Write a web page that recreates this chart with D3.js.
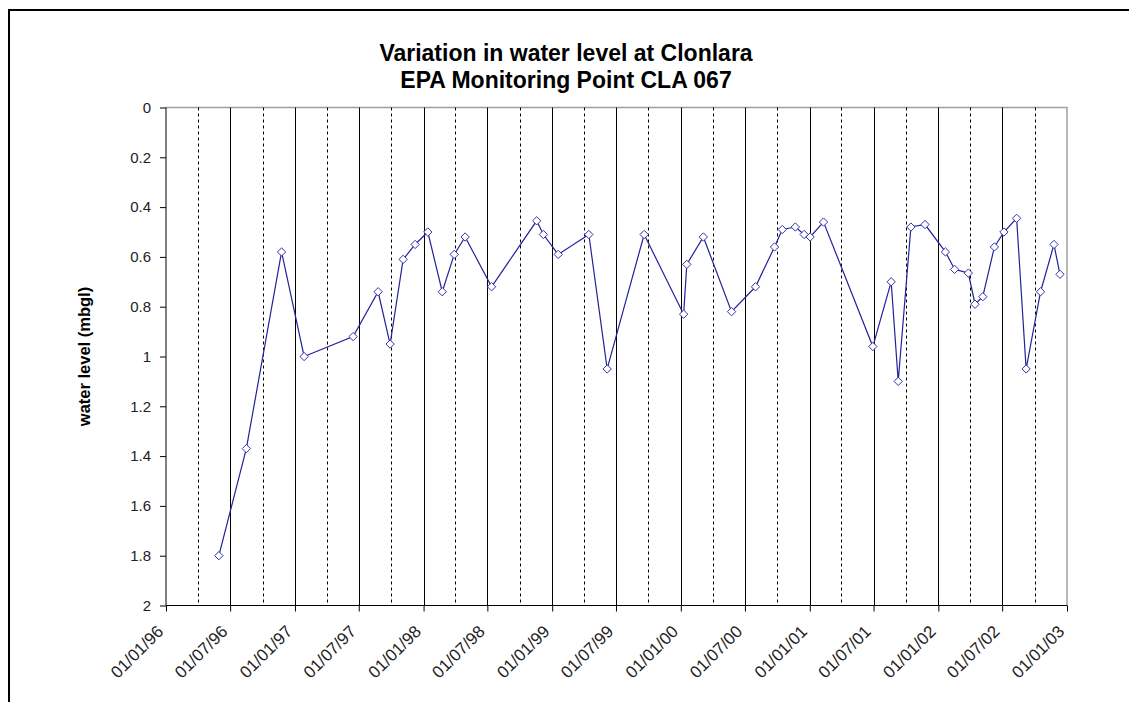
<!DOCTYPE html>
<html>
  <head>
    <meta http-equiv="Content-Type" content="text/html;charset=utf-8">
    <script src="https://d3js.org/d3.v7.min.js"></script>
    <style>
      body { margin: 0; background: #fff; }
      svg text { font-family: Arial, "Liberation Sans", sans-serif; }
    </style>
  </head>
  <body>
    <svg id="chart" width="1129" height="702"></svg>
    <script type="text/javascript">

// sampling dates and water level (metres below ground level)
var dates = ["1996-05-30", "1996-08-16", "1996-11-24", "1997-01-27", "1997-06-15", "1997-08-25",
  "1997-09-28", "1997-11-04", "1997-12-08", "1998-01-13", "1998-02-23", "1998-03-29",
  "1998-04-29", "1998-07-13", "1998-11-18", "1998-12-07", "1999-01-18", "1999-04-15",
  "1999-06-06", "1999-09-19", "2000-01-09", "2000-01-18", "2000-03-05", "2000-05-24",
  "2000-07-31", "2000-09-23", "2000-10-15", "2000-11-21", "2000-12-16", "2001-01-02",
  "2001-02-09", "2001-06-29", "2001-08-20", "2001-09-09", "2001-10-15", "2001-11-24",
  "2002-01-21", "2002-02-16", "2002-03-27", "2002-04-15", "2002-05-07", "2002-06-09",
  "2002-07-06", "2002-08-11", "2002-09-07", "2002-10-18", "2002-11-25", "2002-12-12"];
var levels = [1.80, 1.37, 0.58, 1.00, 0.92, 0.74,
  0.95, 0.61, 0.55, 0.50, 0.74, 0.59,
  0.52, 0.72, 0.455, 0.51, 0.59, 0.51,
  1.05, 0.51, 0.83, 0.63, 0.52, 0.82,
  0.72, 0.56, 0.49, 0.48, 0.51, 0.52,
  0.46, 0.96, 0.70, 1.10, 0.48, 0.47,
  0.58, 0.65, 0.665, 0.79, 0.76, 0.56,
  0.50, 0.445, 1.05, 0.74, 0.55, 0.67];
var yTicks = [0, 0.2, 0.4, 0.6, 0.8, 1, 1.2, 1.4, 1.6, 1.8, 2];
var titleLines = ["Variation in water level at Clonlara", "EPA Monitoring Point CLA 067"];
var yLabel = "water level (mbgl)";

var parse = d3.timeParse("%Y-%m-%d");
var fmt = d3.timeFormat("%d/%m/%y");
var data = dates.map(function(d, i) { return {date: parse(d), level: levels[i]}; });

var svg = d3.select("#chart");
var plotL = 166, plotR = 1067, plotT = 107.5, plotB = 605.5;

var x = d3.scaleTime()
    .domain([new Date(1996, 0, 1), new Date(2003, 0, 1)])
    .range([plotL, plotR]);
var y = d3.scaleLinear().domain([0, 2]).range([plotT, plotB]);

var majors = d3.timeMonth.every(6).range(new Date(1996, 0, 1), new Date(2003, 0, 2));
var minors = d3.timeMonth.every(3).range(new Date(1996, 0, 1), new Date(2003, 0, 1))
    .filter(function(d) { return d.getMonth() % 6 == 3; });

// outer chart frame
svg.append("rect")
    .attr("x", 9).attr("y", 10)
    .attr("width", 1200).attr("height", 800)
    .style("fill", "none").style("stroke", "#000").style("stroke-width", 2);

// title
svg.append("g").selectAll("text")
    .data(titleLines).join("text")
    .attr("x", 566).attr("y", function(d, i) { return 61 + i * 27; })
    .attr("text-anchor", "middle")
    .style("font-size", "23px").style("font-weight", "bold")
    .text(function(d) { return d; });

// plot frame (top and right in grey)
svg.append("path")
    .attr("d", "M" + plotL + "," + plotT + "H" + plotR + "V" + plotB)
    .style("fill", "none").style("stroke", "#a0a0a0").style("stroke-width", 1.5);

// minor gridlines dashed
svg.append("g").selectAll("line")
    .data(minors).join("line")
    .attr("x1", function(d) { return Math.round(x(d)) + 0.5; })
    .attr("x2", function(d) { return Math.round(x(d)) + 0.5; })
    .attr("y1", plotT).attr("y2", plotB)
    .style("stroke", "#000").style("stroke-dasharray", "3,3");

// major gridlines solid
svg.append("g").selectAll("line")
    .data(majors.slice(1, -1)).join("line")
    .attr("x1", function(d) { return Math.round(x(d)) + 0.5; })
    .attr("x2", function(d) { return Math.round(x(d)) + 0.5; })
    .attr("y1", plotT).attr("y2", plotB)
    .style("stroke", "#000");

// y axis
var yAxis = d3.axisLeft(y).tickValues(yTicks).tickSize(6).tickPadding(9)
    .tickFormat(function(d) { return String(d); });
var gy = svg.append("g").attr("transform", "translate(" + plotL + ",0)").call(yAxis);
gy.select(".domain").attr("d", "M0," + plotT + "V" + plotB).style("stroke", "#000");
gy.selectAll("text").style("font-size", "15px").style("fill", "#222").style("font-family", "Arial, 'Liberation Sans', sans-serif");

// x axis
var xAxis = d3.axisBottom(x).tickValues(majors).tickSize(6).tickFormat(fmt);
var gx = svg.append("g").attr("transform", "translate(0," + plotB + ")").call(xAxis);
gx.select(".domain").attr("d", "M" + plotL + ",0H" + plotR).style("stroke", "#000");
gx.selectAll("text")
    .attr("text-anchor", "end")
    .attr("transform", "translate(-2,27) rotate(-45)")
    .attr("x", 0).attr("y", 0).attr("dy", 0)
    .style("font-size", "17px").style("fill", "#222").style("font-family", "Arial, 'Liberation Sans', sans-serif");

// y label
svg.append("text")
    .attr("transform", "translate(90," + ((plotT + plotB) / 2) + ") rotate(-90)")
    .attr("text-anchor", "middle")
    .style("font-size", "16.5px").style("font-weight", "bold")
    .text(yLabel);

// series
var line = d3.line()
    .x(function(d) { return x(d.date); })
    .y(function(d) { return y(d.level); });

svg.append("path")
    .datum(data)
    .attr("d", line)
    .style("fill", "none").style("stroke", "#22229a").style("stroke-width", 1.2);

svg.append("g").selectAll("path")
    .data(data).join("path")
    .attr("d", d3.symbol(d3.symbolDiamond2, 44))
    .attr("transform", function(d) { return "translate(" + x(d.date) + "," + y(d.level) + ")"; })
    .style("fill", "#fff").style("stroke", "#3333aa").style("stroke-width", 1);

    </script>
  </body>
</html>
